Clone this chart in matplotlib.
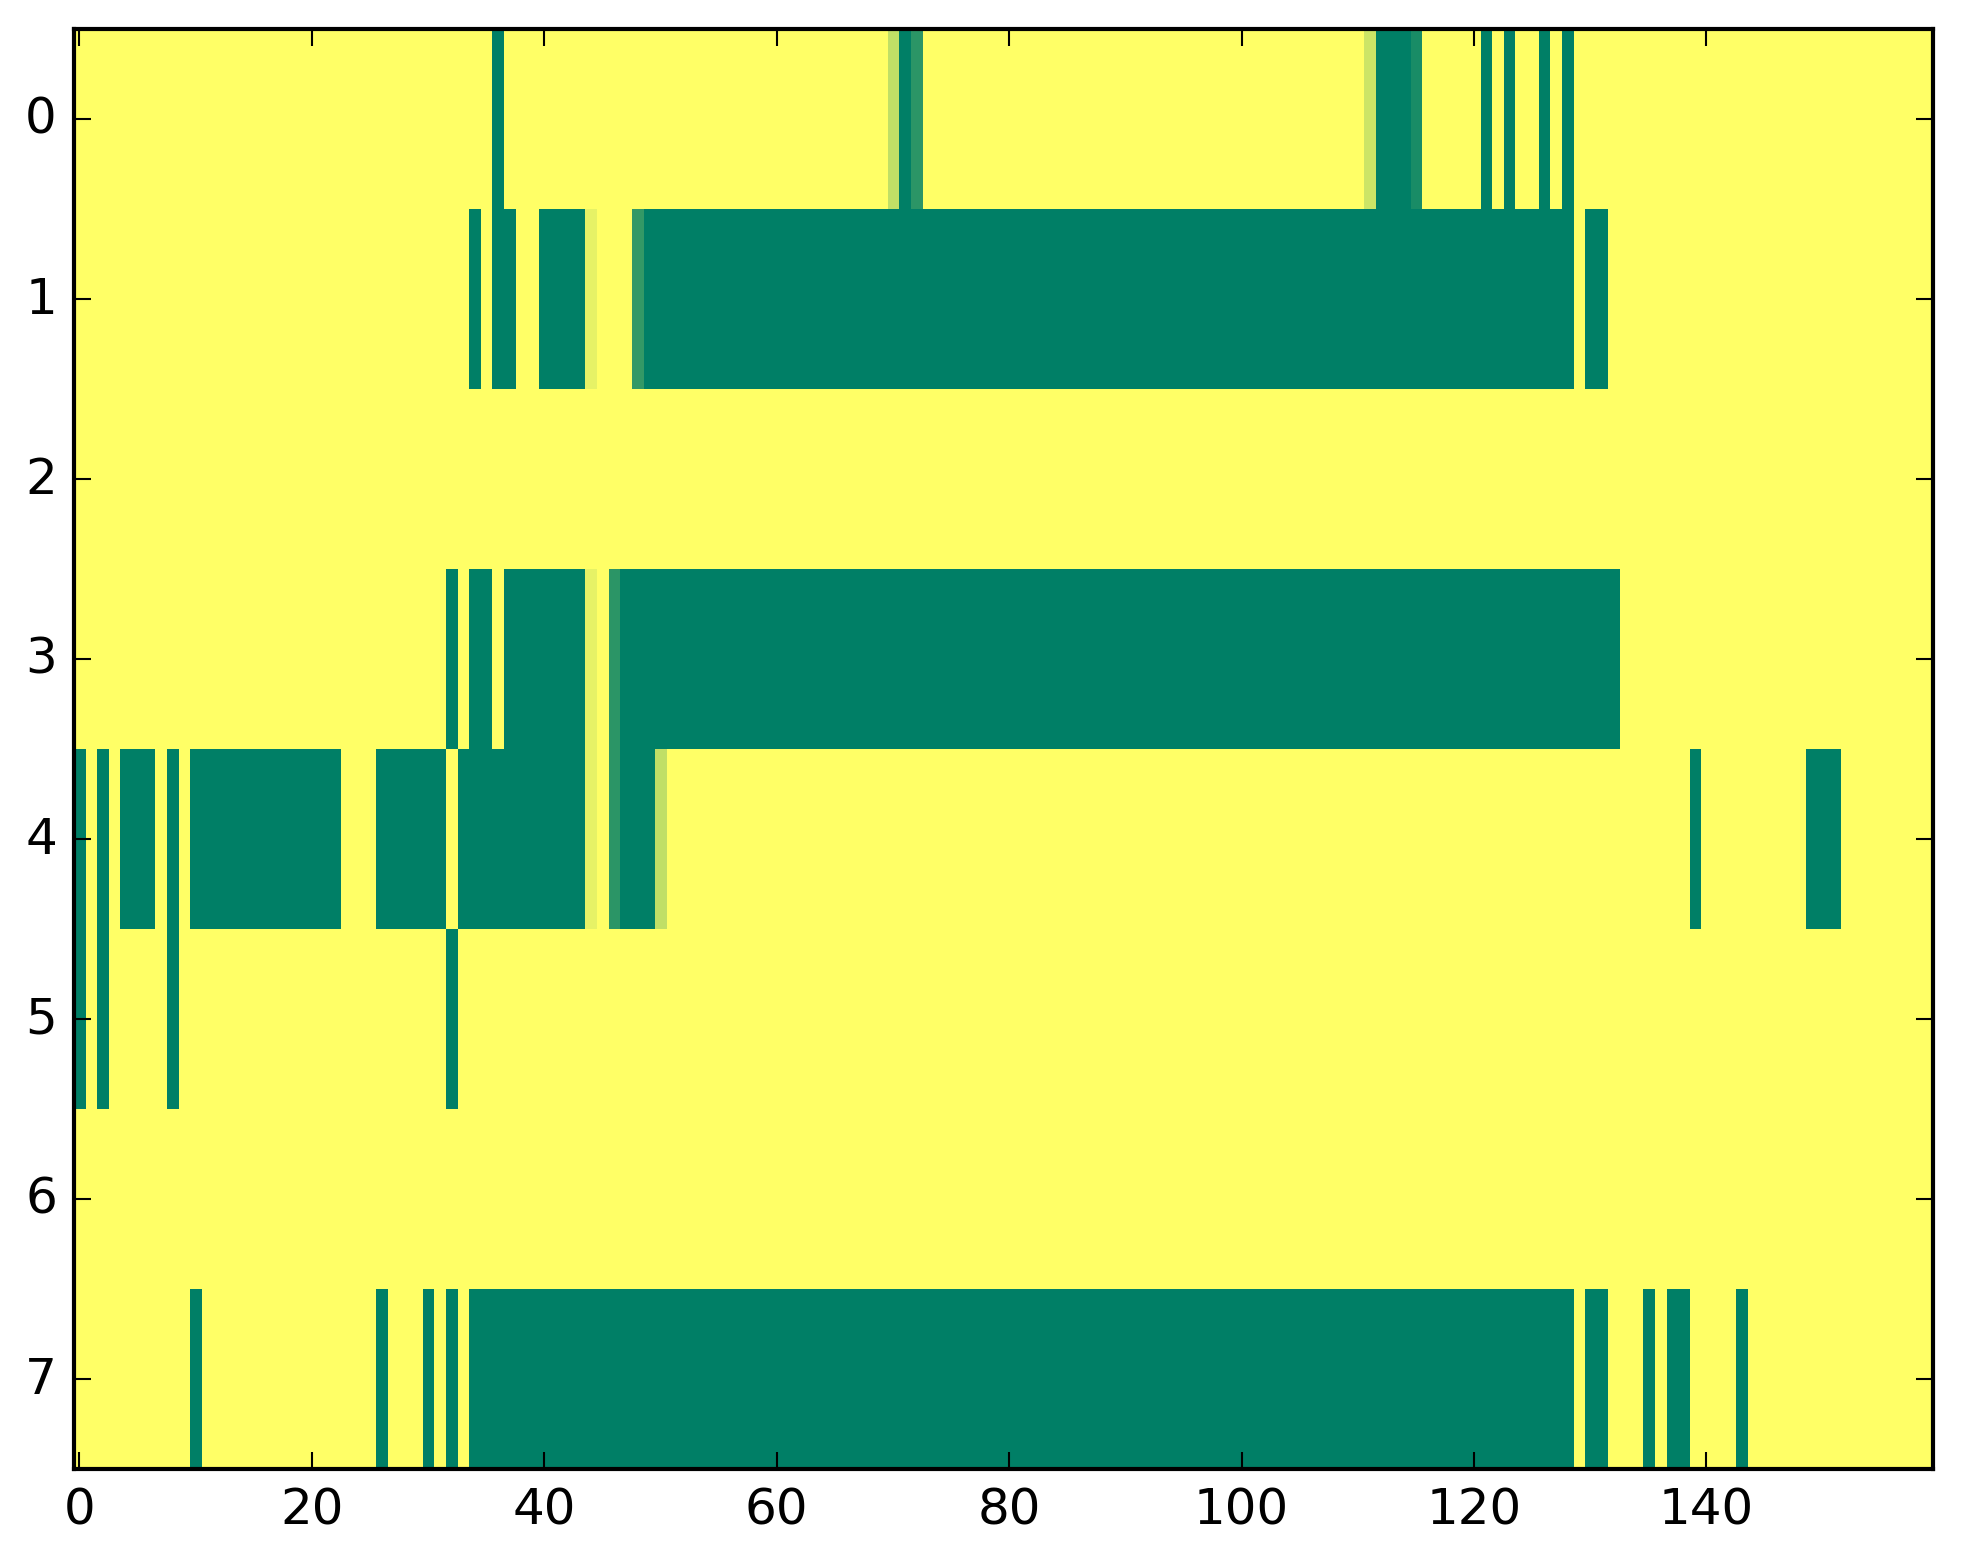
import numpy as np
import matplotlib
matplotlib.use("Agg")
import matplotlib.pyplot as plt

plt.style.use("classic")

n_rows = 8
n_cols = 160

# green (value 0) runs per row, inclusive (start, end) column indices
row0_runs = [(36, 36), (71, 71), (112, 114), (121, 121), (123, 123), (126, 126), (128, 128)]
row1_runs = [(34, 34), (36, 37), (40, 43), (49, 128), (130, 131)]
row2_runs = []
row3_runs = [(32, 32), (34, 35), (37, 43), (47, 132)]
row4_runs = [(0, 0), (2, 2), (4, 6), (8, 8), (10, 22), (26, 31), (33, 43), (47, 49),
             (139, 139), (149, 151)]
row5_runs = [(0, 0), (2, 2), (8, 8), (32, 32)]
row6_runs = []
row7_runs = [(10, 10), (26, 26), (30, 30), (32, 32), (34, 128), (130, 131), (135, 135),
             (137, 138), (143, 143)]

# cells with in-between values
row0_partial = {70: 0.75, 72: 0.17, 111: 0.8, 115: 0.1}
row1_partial = {44: 0.9, 48: 0.2}
row3_partial = {44: 0.9, 46: 0.17}
row4_partial = {44: 0.9, 46: 0.17, 50: 0.75}

xticks = [0, 20, 40, 60, 80, 100, 120, 140]
yticks = [0, 1, 2, 3, 4, 5, 6, 7]

all_runs = [row0_runs, row1_runs, row2_runs, row3_runs, row4_runs, row5_runs, row6_runs, row7_runs]
all_partial = {0: row0_partial, 1: row1_partial, 3: row3_partial, 4: row4_partial}

data = np.ones((n_rows, n_cols))
for r, runs in enumerate(all_runs):
    for a, b in runs:
        data[r, a:b + 1] = 0.0
for r, cells in all_partial.items():
    for c, v in cells.items():
        data[r, c] = v

fig = plt.figure(figsize=(1963 / 300.0, 1564 / 300.0), dpi=300)
fig.patch.set_facecolor("white")
ax = fig.add_axes([0.0375, 0.0604, 0.9472, 0.9204])
ax.imshow(data, cmap="summer", aspect="auto", interpolation="nearest", vmin=0, vmax=1)
ax.set_xticks(xticks)
ax.set_yticks(yticks)
ax.set_xlim(-0.5, n_cols - 0.5)
ax.set_ylim(n_rows - 0.5, -0.5)
ax.tick_params(labelsize=12)

fig.savefig("out.png", dpi=300, facecolor="white")
